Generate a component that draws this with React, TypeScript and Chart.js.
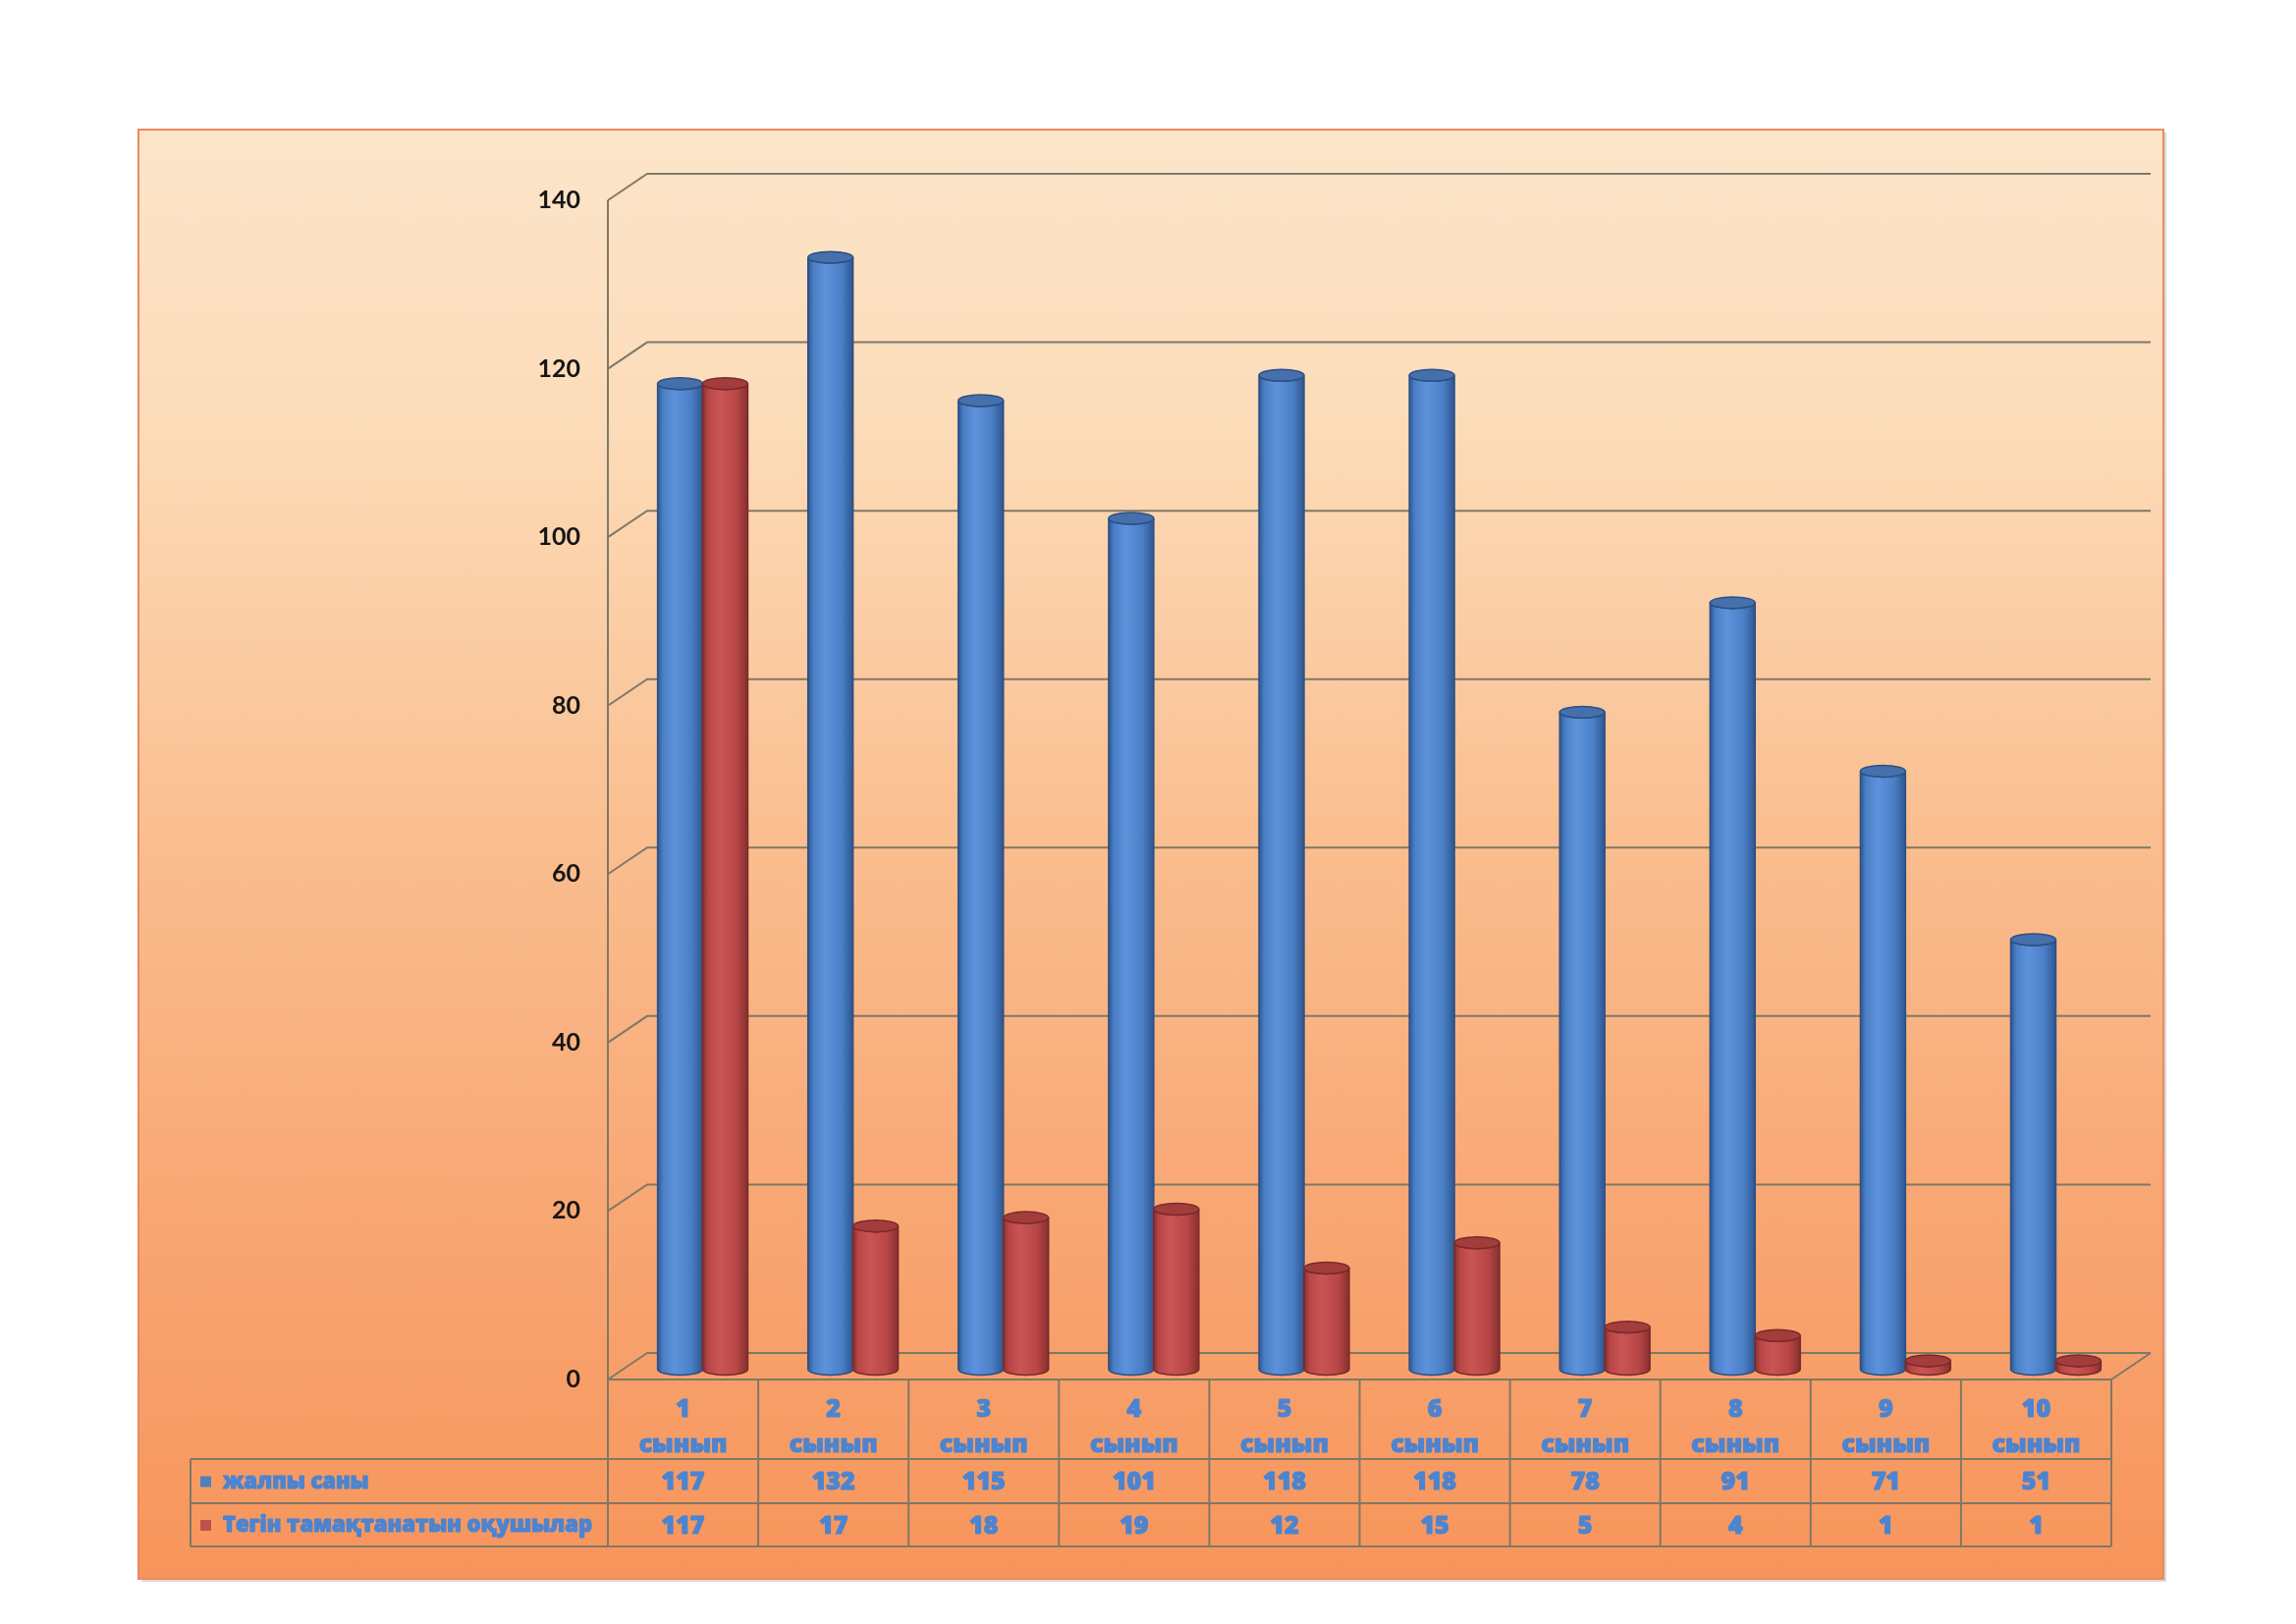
import React, { useEffect, useRef } from "react";
import { Chart, registerables } from "chart.js";

Chart.register(...registerables);

// ---- data ----
const categories = ["1", "2", "3", "4", "5", "6", "7", "8", "9", "10"];
const categorySuffix = "сынып";
const totalLabel = "жалпы саны";
const freeLabel = "Тегін тамақтанатын оқушылар";
const totalValues = [117, 132, 115, 101, 118, 118, 78, 91, 71, 51];
const freeValues = [117, 17, 18, 19, 12, 15, 5, 4, 1, 1];
const yTickStep = 20;
const yMax = 140;

// ---- styles ----
const W = 2338;
const H = 1654;
const DX = 40; // 3D depth offset x
const DY = 27; // 3D depth offset y
const GRID = "#7f7868";
const TEXT_BLUE = "#4d84d0";
const BLUE = { dark: "#2f568f", mid: "#4a7fc6", light: "#5e93dc", top: "#4670ab", rim: "#2c4f86" };
const RED = { dark: "#86302f", mid: "#b94646", light: "#c95654", top: "#a33d3c", rim: "#7a2a2a" };
const TABLE_FONT = "800 25px 'Open Sans', 'DejaVu Sans', sans-serif";
const LEGEND_FONT = "800 22px 'Open Sans', 'DejaVu Sans', sans-serif";

function drawCylinder(ctx: CanvasRenderingContext2D, cx: number, top: number, base: number, w: number, c: any) {
  const r = w / 2;
  const ry = w * 0.13;
  const g = ctx.createLinearGradient(cx - r, 0, cx + r, 0);
  g.addColorStop(0, c.dark);
  g.addColorStop(0.12, c.mid);
  g.addColorStop(0.38, c.light);
  g.addColorStop(0.75, c.mid);
  g.addColorStop(1, c.dark);
  ctx.save();
  ctx.beginPath();
  ctx.moveTo(cx - r, top);
  ctx.lineTo(cx - r, base);
  ctx.ellipse(cx, base, r, ry, 0, Math.PI, 0, true);
  ctx.lineTo(cx + r, top);
  ctx.ellipse(cx, top, r, ry, 0, 0, Math.PI, false);
  ctx.closePath();
  ctx.fillStyle = g;
  ctx.fill();
  ctx.strokeStyle = c.rim;
  ctx.lineWidth = 1.5;
  ctx.stroke();
  ctx.beginPath();
  ctx.ellipse(cx, top, r, ry, 0, 0, Math.PI * 2);
  ctx.fillStyle = c.top;
  ctx.fill();
  ctx.strokeStyle = c.rim;
  ctx.stroke();
  ctx.restore();
}

function heavyText(ctx: CanvasRenderingContext2D, s: string, x: number, y: number) {
  ctx.fillText(s, x, y);
  ctx.strokeText(s, x, y);
}

const backgroundPlugin = {
  id: "bgbox",
  beforeDraw(chart: any) {
    const ctx = chart.ctx as CanvasRenderingContext2D;
    ctx.save();
    ctx.fillStyle = "#ffffff";
    ctx.fillRect(0, 0, W, H);
    const bx = 141, by = 132, bw = 2062, bh = 1476;
    ctx.fillStyle = "rgba(120,110,100,0.25)";
    ctx.fillRect(bx + 3, by + 3, bw, bh);
    const g = ctx.createLinearGradient(0, by, 0, by + bh);
    g.addColorStop(0, "#fce5ca");
    g.addColorStop(0.2, "#fcdcb9");
    g.addColorStop(0.5, "#fabd8e");
    g.addColorStop(0.78, "#f8a470");
    g.addColorStop(1, "#f7955b");
    ctx.fillStyle = g;
    ctx.fillRect(bx, by, bw, bh);
    ctx.strokeStyle = "#ea8a62";
    ctx.lineWidth = 2;
    ctx.strokeRect(bx, by, bw, bh);
    ctx.restore();
  },
};

const gridPlugin = {
  id: "grid3d",
  beforeDatasetsDraw(chart: any) {
    const ctx = chart.ctx as CanvasRenderingContext2D;
    const { left, right, top, bottom } = chart.chartArea;
    const yS = chart.scales.y;
    ctx.save();
    ctx.strokeStyle = GRID;
    ctx.lineWidth = 2;
    ctx.beginPath();
    yS.ticks.forEach((t: any) => {
      const y = yS.getPixelForValue(t.value);
      ctx.moveTo(left, y);
      ctx.lineTo(left + DX, y - DY);
      ctx.lineTo(right + DX, y - DY);
    });
    ctx.moveTo(left, top);
    ctx.lineTo(left, bottom);
    ctx.moveTo(left, bottom);
    ctx.lineTo(right, bottom);
    ctx.lineTo(right + DX, bottom - DY);
    ctx.stroke();
    ctx.restore();
  },
};

const cylinderPlugin = {
  id: "cylinders",
  afterDatasetsDraw(chart: any) {
    const ctx = chart.ctx as CanvasRenderingContext2D;
    const palettes = [BLUE, RED];
    chart.data.datasets.forEach((_ds: any, di: number) => {
      const meta = chart.getDatasetMeta(di);
      meta.data.forEach((el: any) => {
        const p = el.getProps(["x", "y", "base", "width"], true);
        drawCylinder(ctx, p.x + DX / 2, p.y - DY / 2 + 3, p.base - DY / 2 + 3, p.width, palettes[di]);
      });
    });
  },
};

const tablePlugin = {
  id: "datatable",
  afterDraw(chart: any) {
    const ctx = chart.ctx as CanvasRenderingContext2D;
    const { left, right, bottom } = chart.chartArea;
    const xS = chart.scales.x;
    const n = categories.length;
    const cw = (right - left) / n;
    const y0 = bottom;
    const y1 = bottom + 81;
    const y2 = y1 + 45;
    const y3 = y2 + 44;
    const legendLeft = 194;
    ctx.save();
    ctx.strokeStyle = GRID;
    ctx.lineWidth = 2;
    ctx.beginPath();
    for (let i = 0; i <= n; i++) {
      const x = left + i * cw;
      ctx.moveTo(x, y0);
      ctx.lineTo(x, y3);
    }
    [y1, y2, y3].forEach((y) => {
      ctx.moveTo(legendLeft, y);
      ctx.lineTo(right, y);
    });
    ctx.moveTo(legendLeft, y1);
    ctx.lineTo(legendLeft, y3);
    ctx.stroke();

    ctx.font = TABLE_FONT;
    ctx.fillStyle = TEXT_BLUE;
    ctx.strokeStyle = TEXT_BLUE;
    ctx.lineWidth = 1.2;
    ctx.lineJoin = "round";
    ctx.textAlign = "center";
    ctx.textBaseline = "middle";
    categories.forEach((c, i) => {
      const x = xS.getPixelForValue(i);
      heavyText(ctx, c, x, y0 + 31);
      heavyText(ctx, categorySuffix, x, y0 + 67);
      heavyText(ctx, String(totalValues[i]), x, (y1 + y2) / 2 + 1);
      heavyText(ctx, String(freeValues[i]), x, (y2 + y3) / 2 + 2);
    });

    const rows = [
      { label: totalLabel, color: "#4f81bd", y: (y1 + y2) / 2 },
      { label: freeLabel, color: "#c0504d", y: (y2 + y3) / 2 },
    ];
    ctx.font = LEGEND_FONT;
    ctx.textAlign = "left";
    const maxW = left - (legendLeft + 33) - 8;
    rows.forEach((r) => {
      ctx.fillStyle = r.color;
      ctx.fillRect(legendLeft + 10, r.y - 5, 11, 11);
      ctx.fillStyle = TEXT_BLUE;
      const tw = ctx.measureText(r.label).width;
      const sx = tw > maxW ? maxW / tw : 1;
      ctx.save();
      ctx.translate(legendLeft + 33, r.y + 1);
      ctx.scale(sx, 1);
      heavyText(ctx, r.label, 0, 0);
      ctx.restore();
    });
    ctx.restore();
  },
};

export default function App() {
  const ref = useRef<HTMLCanvasElement | null>(null);
  useEffect(() => {
    if (!ref.current) return;
    const chart = new Chart(ref.current, {
      type: "bar",
      data: {
        labels: categories.map((c) => `${c} ${categorySuffix}`),
        datasets: [
          { label: totalLabel, data: totalValues, backgroundColor: "rgba(0,0,0,0)", borderWidth: 0 },
          { label: freeLabel, data: freeValues, backgroundColor: "rgba(0,0,0,0)", borderWidth: 0 },
        ],
      },
      options: {
        responsive: false,
        animation: false,
        devicePixelRatio: 1,
        layout: { padding: { left: 0, top: 204, right: 188, bottom: 249 } },
        datasets: { bar: { categoryPercentage: 0.6, barPercentage: 1.0 } },
        plugins: { legend: { display: false }, tooltip: { enabled: false } },
        scales: {
          x: { type: "category", display: false, offset: true },
          y: {
            min: 0,
            max: yMax,
            ticks: {
              stepSize: yTickStep,
              padding: 28,
              color: "#151515",
              font: { family: "Lato, 'Open Sans', sans-serif", size: 25, weight: "bold" },
            },
            grid: { display: false, drawTicks: false },
            border: { display: false },
            afterFit: (s: any) => {
              s.width = 619;
            },
          },
        },
      },
      plugins: [backgroundPlugin, gridPlugin, cylinderPlugin, tablePlugin],
    } as any);
    return () => chart.destroy();
  }, []);
  return (
    <div style={{ position: "absolute", left: 0, top: 0, width: W, height: H, background: "#fff" }}>
      <canvas ref={ref} width={W} height={H} style={{ width: W, height: H, display: "block" }} />
    </div>
  );
}
